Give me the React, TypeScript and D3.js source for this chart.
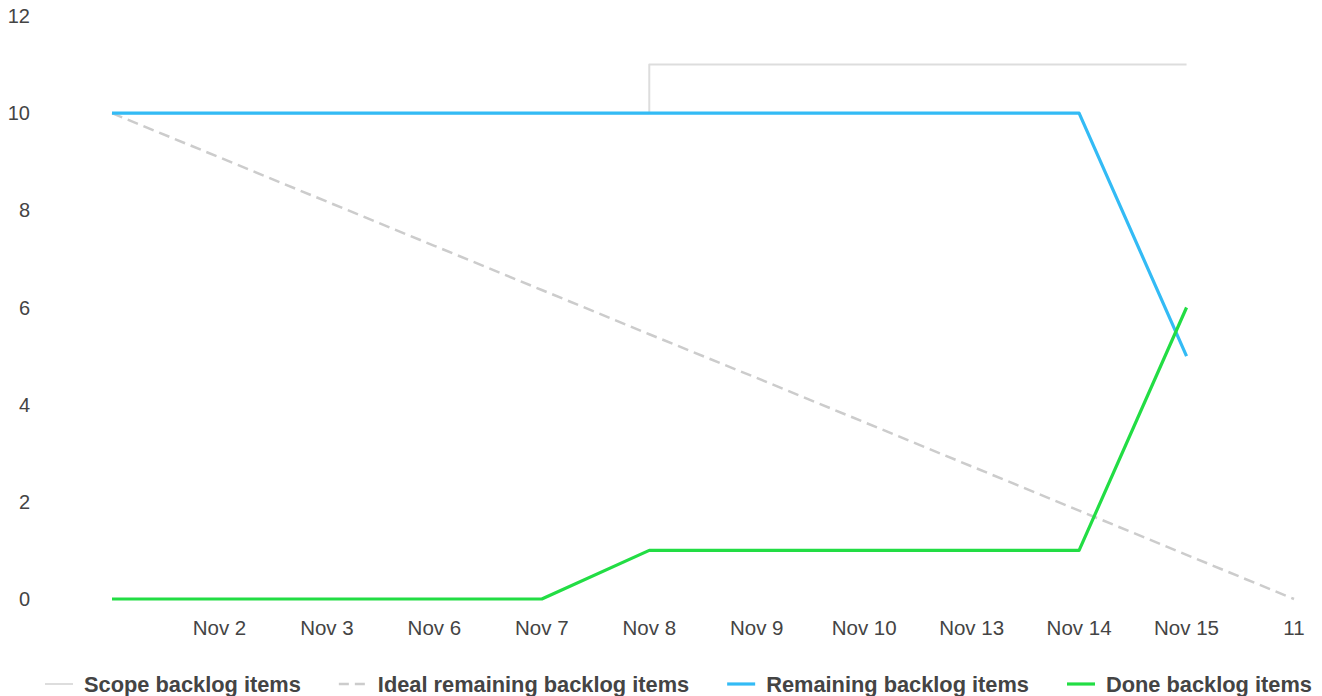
import React, { useRef, useEffect } from "react";
import * as d3 from "d3";

const categories = ["", "Nov 2", "Nov 3", "Nov 6", "Nov 7", "Nov 8", "Nov 9", "Nov 10", "Nov 13", "Nov 14", "Nov 15", "11"];
const scopeValues = [10, 10, 10, 10, 10, 11, 11, 11, 11, 11, 11];
const idealValues = [10, 9.09, 8.18, 7.27, 6.36, 5.45, 4.55, 3.64, 2.73, 1.82, 0.91, 0];
const remainingValues = [10, 10, 10, 10, 10, 10, 10, 10, 10, 10, 5];
const doneValues = [0, 0, 0, 0, 0, 1, 1, 1, 1, 1, 6];
const yTicks = [0, 2, 4, 6, 8, 10, 12];

const series = [
  { name: "Scope backlog items", values: scopeValues, color: "#dddddd", width: 2, dash: "", step: true },
  { name: "Ideal remaining backlog items", values: idealValues, color: "#cccccc", width: 2.5, dash: "11,6", step: false },
  { name: "Remaining backlog items", values: remainingValues, color: "#33bbf5", width: 3.2, dash: "", step: false },
  { name: "Done backlog items", values: doneValues, color: "#22dd44", width: 3.2, dash: "", step: false },
];

const W = 1322;
const H = 696;

const App: React.FC = () => {
  const svgRef = useRef<SVGSVGElement | null>(null);

  useEffect(() => {
    if (!svgRef.current) return;
    const svg = d3.select(svgRef.current);
    svg.selectAll("*").remove();

    const x = d3.scalePoint<number>().domain(d3.range(categories.length)).range([112, 1294]);
    const y = d3.scaleLinear().domain([0, 12]).range([599, 16]);
    const font = "Liberation Sans, Arial, sans-serif";

    // y tick labels
    svg
      .selectAll(".ytick")
      .data(yTicks)
      .enter()
      .append("text")
      .attr("x", 30)
      .attr("y", (d) => y(d))
      .attr("dy", "0.35em")
      .attr("text-anchor", "end")
      .style("font-family", font)
      .style("font-size", "20px")
      .attr("fill", "#444")
      .text((d) => d);

    // x tick labels
    svg
      .selectAll(".xtick")
      .data(categories)
      .enter()
      .append("text")
      .attr("x", (_, i) => x(i)!)
      .attr("y", 628)
      .attr("dy", "0.35em")
      .attr("text-anchor", "middle")
      .style("font-family", font)
      .style("font-size", "20.5px")
      .attr("fill", "#444")
      .text((d) => d);

    series.forEach((s) => {
      const line = d3
        .line<number>()
        .x((_, i) => x(i)!)
        .y((d) => y(d))
        .curve(s.step ? d3.curveStepAfter : d3.curveLinear);
      svg
        .append("path")
        .datum(s.values)
        .attr("d", line)
        .attr("fill", "none")
        .attr("stroke", s.color)
        .attr("stroke-width", s.width)
        .attr("stroke-dasharray", s.dash || null)
        .attr("stroke-linejoin", "round");
    });

    // legend
    const legend = svg.append("g");
    let lx = 45;
    const ly = 684;
    series.forEach((s) => {
      legend
        .append("line")
        .attr("x1", lx)
        .attr("x2", lx + 28)
        .attr("y1", ly)
        .attr("y2", ly)
        .attr("stroke", s.color)
        .attr("stroke-width", s.width)
        .attr("stroke-dasharray", s.dash ? "10,6" : null);
      const t = legend
        .append("text")
        .attr("x", lx + 39)
        .attr("y", ly)
        .attr("dy", "0.35em")
        .style("font-family", font)
        .style("font-size", "21.8px")
        .style("font-weight", "bold")
        .attr("fill", "#444")
        .text(s.name);
      const w = (t.node() as SVGTextElement).getComputedTextLength();
      lx = lx + 39 + w + 38;
    });
  }, []);

  return (
    <svg
      ref={svgRef}
      width={W}
      height={H}
      style={{ position: "absolute", left: 0, top: 0, background: "#fff" }}
    ></svg>
  );
};

export default App;
